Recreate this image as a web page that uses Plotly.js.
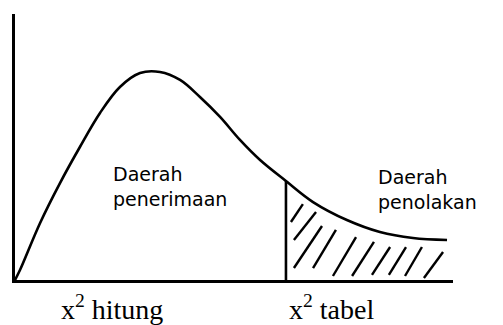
<!DOCTYPE html>
<html>
<head>
<meta charset="utf-8">
<script src="https://cdn.plot.ly/plotly-3.0.1.min.js"></script>
<style>html,body{margin:0;padding:0;background:#fff;}#chart{width:503px;height:325px;}</style>
</head>
<body>
<div id="chart"></div>
<script>
// Chi-square density curve
var curveX = [0, 0.25, 1.26, 2.26, 3.26, 4.27, 5.27, 6.28, 7.28, 8.29, 9.29, 10.30, 11.30, 12.31, 13.61, 14.97, 16.67, 18.33, 19.99, 21.70];
var curveY = [0, 0.0075, 0.0429, 0.0729, 0.1000, 0.1256, 0.1451, 0.1556, 0.1564, 0.1504, 0.1376, 0.1226, 0.1053, 0.0902, 0.0744, 0.0586, 0.0451, 0.0361, 0.0316, 0.0301];
var tabelIndex = 14; // x² tabel position in curveX

// Hand-drawn hatch strokes in the rejection region
var hatchX0 = [13.86, 14.01, 14.01, 14.97, 15.97, 16.93, 17.93, 18.78, 19.59, 20.54];
var hatchY0 = [0.0436, 0.0301, 0.0090, 0.0090, 0.0030, 0.0030, 0.0038, 0.0038, 0.0030, 0.0015];
var hatchX1 = [14.46, 15.12, 15.42, 16.12, 17.13, 18.03, 18.84, 19.64, 20.44, 21.50];
var hatchY1 = [0.0571, 0.0511, 0.0406, 0.0376, 0.0323, 0.0286, 0.0248, 0.0248, 0.0248, 0.0211];

var regionLabels = ["Daerah<br>penerimaan", "Daerah<br>penolakan"];
var regionLabelX = [4.82, 18.13];
var regionLabelY = [0.0895, 0.0870];
var axisLabels = ["x<sup>2</sup> hitung", "x<sup>2</sup> tabel"];
var axisLabelX = [2.21, 13.66];

var hx = [], hy = [];
for (var i = 0; i < hatchX0.length; i++) {
  hx.push(hatchX0[i], hatchX1[i], null);
  hy.push(hatchY0[i], hatchY1[i], null);
}

var traces = [
  {x: curveX, y: curveY, mode: 'lines', line: {color: '#000', width: 2.6, shape: 'spline', smoothing: 1}, hoverinfo: 'skip'},
  {x: [curveX[tabelIndex], curveX[tabelIndex]], y: [0, curveY[tabelIndex]], mode: 'lines', line: {color: '#000', width: 2.6}, hoverinfo: 'skip'},
  {x: hx, y: hy, mode: 'lines', line: {color: '#000', width: 2.4}, connectgaps: false, hoverinfo: 'skip'}
];

var annotations = [];
for (var j = 0; j < regionLabels.length; j++) {
  annotations.push({x: regionLabelX[j], y: regionLabelY[j], xref: 'x', yref: 'y', text: regionLabels[j],
    showarrow: false, xanchor: 'left', yanchor: 'top', align: 'left',
    font: {family: 'DejaVu Sans', size: 19, color: '#000'}});
}
for (var k = 0; k < axisLabels.length; k++) {
  annotations.push({x: axisLabelX[k], y: 0, xref: 'x', yref: 'paper', text: axisLabels[k],
    showarrow: false, xanchor: 'left', yanchor: 'top', yshift: -8,
    font: {family: 'Liberation Serif', size: 28, color: '#000'}});
}

var layout = {
  width: 503, height: 325,
  margin: {l: 15, r: 50, t: 14, b: 45, pad: 0},
  paper_bgcolor: '#fff', plot_bgcolor: '#fff',
  showlegend: false,
  xaxis: {range: [0, 22], showline: true, linewidth: 3, linecolor: '#000', showgrid: false, zeroline: false, showticklabels: false, ticks: '', fixedrange: true},
  yaxis: {range: [0, 0.2], showline: true, linewidth: 3, linecolor: '#000', showgrid: false, zeroline: false, showticklabels: false, ticks: '', fixedrange: true},
  annotations: annotations
};

Plotly.newPlot('chart', traces, layout, {staticPlot: true, displayModeBar: false});
</script>
</body>
</html>
